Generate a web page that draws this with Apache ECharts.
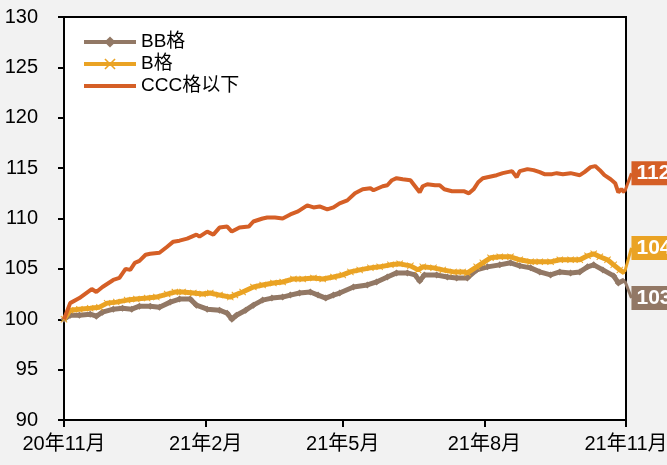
<!DOCTYPE html>
<html>
<head>
<meta charset="utf-8">
<script src="https://cdn.jsdelivr.net/npm/echarts@6/dist/echarts.min.js"></script>
<style>
html,body{margin:0;padding:0;background:#f2f2f2;}
#chart{width:667px;height:465px;}
</style>
</head>
<body>
<div id="chart"></div>
<script>
// x positions are days after 2020-11-01
var tickDays = [0, 92, 181, 273, 365];
var tickLabels = ['20年11月', '21年2月', '21年5月', '21年8月', '21年11月'];
var seriesNames = ['BB格', 'B格', 'CCC格以下'];

var bbDays = [0,4,10,17,21,25,32,38,44,49,56,62,69,75,82,86,93,101,106,109,112,118,123,129,135,142,147,153,160,165,170,175,179,188,197,203,210,216,223,228,231,234,242,249,255,262,268,275,283,290,296,303,309,316,322,329,335,340,344,350,357,360,364];
var bbVals = [100.0,100.4,100.4,100.5,100.3,100.7,101.0,101.1,101.0,101.3,101.3,101.2,101.7,102.0,102.0,101.4,101.0,100.9,100.6,100.0,100.4,100.9,101.4,101.9,102.1,102.2,102.4,102.6,102.7,102.4,102.1,102.4,102.6,103.2,103.4,103.7,104.2,104.6,104.6,104.4,103.8,104.4,104.4,104.2,104.1,104.1,104.9,105.2,105.4,105.6,105.3,105.1,104.7,104.4,104.7,104.6,104.7,105.2,105.4,104.9,104.3,103.6,103.9];

var bDays = [0,4,10,17,23,28,34,41,47,54,60,67,72,77,84,90,95,101,108,111,116,123,129,136,142,149,155,162,168,175,181,186,192,199,205,212,218,225,230,233,240,246,253,259,262,268,272,277,283,290,296,303,309,316,322,329,335,340,344,348,353,357,361,364];
var bVals = [100.0,100.9,101.0,101.1,101.2,101.6,101.7,101.9,102.0,102.1,102.2,102.5,102.7,102.7,102.6,102.5,102.6,102.4,102.2,102.4,102.7,103.2,103.4,103.6,103.7,104.0,104.0,104.1,104.0,104.2,104.4,104.7,104.9,105.1,105.2,105.4,105.5,105.3,104.9,105.2,105.1,104.9,104.7,104.7,104.6,105.2,105.6,106.1,106.2,106.2,105.9,105.7,105.7,105.7,105.9,105.9,105.9,106.3,106.5,106.2,105.9,105.4,104.9,104.6];

var cccDays = [0,4,10,18,21,25,32,36,40,43,46,49,53,56,62,67,71,75,80,86,88,93,97,101,106,109,114,120,123,129,132,137,142,147,152,158,162,166,171,175,179,184,189,194,199,201,207,210,213,216,220,225,228,231,233,236,241,244,247,252,257,260,263,266,269,272,275,281,285,291,294,296,301,305,309,312,317,320,324,329,335,338,342,345,348,351,355,358,360,362,364];
var cccVals = [100.0,101.6,102.1,103.0,102.7,103.2,103.9,104.1,105.0,104.9,105.6,105.8,106.4,106.5,106.6,107.2,107.7,107.8,108.0,108.4,108.2,108.7,108.4,109.1,109.2,108.7,109.1,109.2,109.7,110.0,110.1,110.1,110.0,110.4,110.7,111.3,111.1,111.2,110.9,111.1,111.5,111.8,112.5,112.9,113.0,112.8,113.2,113.3,113.8,114.0,113.9,113.8,113.2,112.6,113.2,113.4,113.3,113.3,112.9,112.7,112.7,112.7,112.5,112.9,113.6,114.0,114.1,114.3,114.5,114.7,114.1,114.7,114.9,114.8,114.6,114.4,114.4,114.5,114.4,114.5,114.3,114.6,115.1,115.2,114.8,114.3,113.9,113.5,112.6,112.9,112.6];

var colors = ['#927865', '#eaa324', '#d55f26'];
var endOffsets = [18, -25, -19];
var textFont = 'Liberation Sans, Arial, Noto Sans CJK SC, sans-serif';

function buildData(days, vals, idx) {
  var out = [];
  for (var i = 0; i < days.length; i++) {
    var item = { value: [days[i], vals[i]] };
    if (i === days.length - 1) {
      item.symbol = 'circle';
      item.symbolSize = 2;
      item.label = {
        show: true,
        position: 'right',
        distance: 6,
        formatter: function (p) { return p.value[1].toFixed(1); },
        backgroundColor: colors[idx],
        color: '#ffffff',
        fontSize: 21,
        fontWeight: 'bold',
        fontFamily: textFont,
        padding: [2, 5, 1, 5]
      };
    }
    out.push(item);
  }
  return out;
}

var crossPath = 'path://M0,1L1,0L5,4L9,0L10,1L6,5L10,9L9,10L5,6L1,10L0,9L4,5Z';
var symbols = ['diamond', crossPath, 'none'];
var allDays = [bbDays, bDays, cccDays];
var allVals = [bbVals, bVals, cccVals];
var widths = [5, 5, 4];

var series = [];
for (var s = 0; s < 3; s++) {
  (function (s) {
    series.push({
      name: seriesNames[s],
      type: 'line',
      data: buildData(allDays[s], allVals[s], s),
      symbol: symbols[s],
      symbolSize: 7,
      showSymbol: true,
      itemStyle: { color: colors[s] },
      lineStyle: { color: colors[s], width: widths[s] },
      label: { show: false },
      labelLine: { show: true, lineStyle: { color: colors[s], width: 3 } },
      labelLayout: { dy: endOffsets[s] },
      emphasis: { disabled: true },
      animation: false,
      z: 2 + s
    });
  })(s);
}

var chart = echarts.init(document.getElementById('chart'));
chart.setOption({
  backgroundColor: '#f2f2f2',
  animation: false,
  textStyle: { fontFamily: textFont },
  grid: {
    left: 64, top: 17, right: 41, bottom: 45,
    outerBoundsMode: 'none',
    containLabel: false,
    show: true, backgroundColor: '#ffffff', borderColor: '#000000', borderWidth: 2
  },
  legend: {
    orient: 'vertical',
    left: 82, top: 32,
    padding: 0,
    itemWidth: 52, itemHeight: 14, itemGap: 2,
    lineStyle: { width: 4 },
    data: [
      { name: seriesNames[0] },
      { name: seriesNames[1] },
      { name: seriesNames[2], itemStyle: { opacity: 0 } }
    ],
    textStyle: { fontSize: 19, lineHeight: 20, color: '#000000', fontFamily: textFont }
  },
  xAxis: {
    type: 'value',
    min: 0, max: 365,
    axisLine: { show: true, lineStyle: { color: '#000000', width: 2 } },
    axisTick: { show: true, length: 7, customValues: tickDays, lineStyle: { color: '#000000', width: 2 } },
    axisLabel: {
      customValues: tickDays,
      margin: 14,
      fontSize: 20, color: '#000000',
      fontFamily: textFont,
      formatter: function (v) {
        var i = tickDays.indexOf(v);
        return i >= 0 ? tickLabels[i] : '';
      }
    },
    splitLine: { show: false }
  },
  yAxis: {
    type: 'value',
    min: 90, max: 130, interval: 5,
    axisLine: { show: true, lineStyle: { color: '#000000', width: 2 } },
    axisTick: { show: true, length: 6, lineStyle: { color: '#000000', width: 2 } },
    axisLabel: { margin: 26, fontSize: 20, color: '#000000', fontFamily: textFont },
    splitLine: { show: false }
  },
  series: series
});
</script>
</body>
</html>
